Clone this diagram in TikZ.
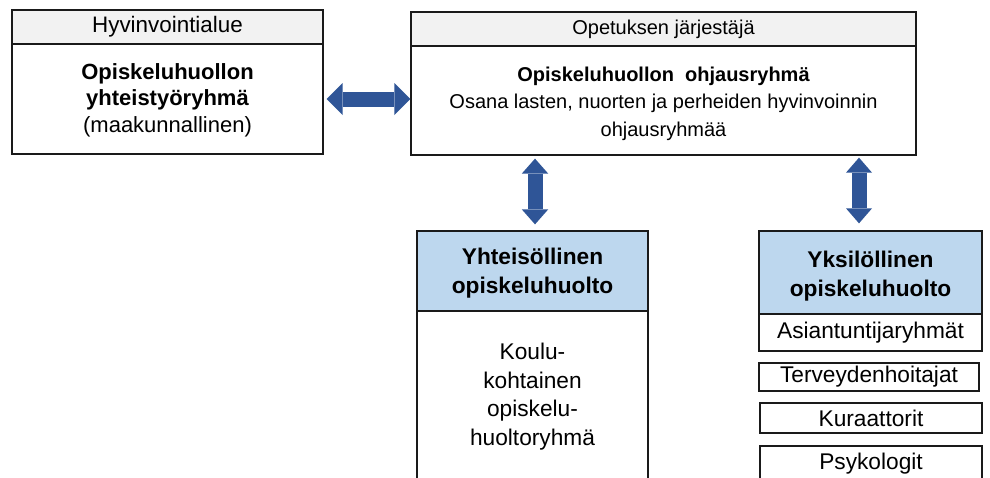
\documentclass[tikz,border=0pt]{standalone}
\usepackage{fontspec}
\setmainfont{Liberation Sans}
\usetikzlibrary{arrows.meta}
\definecolor{hdrgray}{HTML}{F2F2F2}
\definecolor{hdrblue}{HTML}{BDD7EE}
\definecolor{arrblue}{HTML}{2F5597}
\definecolor{edge}{HTML}{1A1A1A}
\tikzset{
  box/.style={draw=edge, line width=1.3pt, fill=white, inner sep=0pt, align=center, anchor=center},
  grayhdr/.style={box, fill=hdrgray},
  bluehdr/.style={box, fill=hdrblue},
  txt/.style={inner sep=0pt, align=center, anchor=center},
  fleft/.style={font=\fontsize{22}{26.5}\selectfont},
  flow/.style={font=\fontsize{22.7}{28.5}\selectfont},
  fsmall/.style={font=\fontsize{20}{27.5}\selectfont},
  dblarrow/.style 2 args={draw=arrblue, line width=15pt,
    {Triangle[width=#1,length=#2,line width=0pt]}-{Triangle[width=#1,length=#2,line width=0pt]}},
}
\begin{document}
\begin{tikzpicture}[x=1pt,y=-1pt]
\fill[white] (0,0) rectangle (990,477);
\useasboundingbox (0,0) rectangle (990,477);

% left group
\node[box, minimum width=311pt, minimum height=110pt] (lb) at (167.5,99) {};
\node[txt, fleft] (lbt) at (167.5,100)
  {\textbf{Opiskeluhuollon}\\\textbf{yhteistyöryhmä}\\(maakunnallinen)};
\node[grayhdr, minimum width=311pt, minimum height=34pt, font=\fontsize{22.4}{26}\selectfont] (lh) at (167.5,27) {Hyvinvointialue};

% right top group
\node[box, minimum width=505pt, minimum height=109pt] (rb) at (663.5,100.5) {};
\node[txt, fsmall] (rbt) at (663.5,103.5)
  {\textbf{Opiskeluhuollon\ \ ohjausryhmä}\\Osana lasten, nuorten ja perheiden hyvinvoinnin\\ohjausryhmää};
\node[grayhdr, minimum width=505pt, minimum height=34pt, fsmall] (rh) at (663.5,29) {Opetuksen järjestäjä};

% community care
\node[box, minimum width=231pt, minimum height=169pt] (yb) at (532.5,395.5) {};
\node[txt, flow] (ybt) at (532.5,396.5) {Koulu-\\kohtainen\\opiskelu-\\huoltoryhmä};
\node[bluehdr, minimum width=231pt, minimum height=80pt] (yh) at (532.5,271) {};
\node[txt, flow] (yht) at (532.5,273) {\textbf{Yhteisöllinen}\\\textbf{opiskeluhuolto}};

% individual care
\node[bluehdr, minimum width=223pt, minimum height=83pt] (kh) at (870.5,272.5) {};
\node[txt, flow] (kht) at (870.5,276) {\textbf{Yksilöllinen}\\\textbf{opiskeluhuolto}};
\node[box, minimum width=223pt, minimum height=37pt, flow] (k1) at (870.5,332.5) {Asiantuntijaryhmät};
\node[box, minimum width=220pt, minimum height=28pt, flow] (k2) at (869,377) {Terveydenhoitajat};
\node[box, minimum width=222pt, minimum height=30pt, flow] (k3) at (871,418) {Kuraattorit};
\node[box, minimum width=222pt, minimum height=36pt, flow] (k4) at (871,464) {Psykologit};

% arrows
\draw[dblarrow={32pt}{16pt}] ([xshift=3pt]lb.east) -- (rb.west |- lb.east);
\draw[dblarrow={26.5pt}{15pt}] ([yshift=-3pt,xshift=2.5pt]rb.south -| yh.north) -- ([yshift=6pt,xshift=2.5pt]yh.north);
\draw[dblarrow={26pt}{15pt}] ([yshift=-2pt,xshift=-11.5pt]rb.south -| kh.north) -- ([yshift=7pt,xshift=-11.5pt]kh.north);
\end{tikzpicture}
\end{document}
